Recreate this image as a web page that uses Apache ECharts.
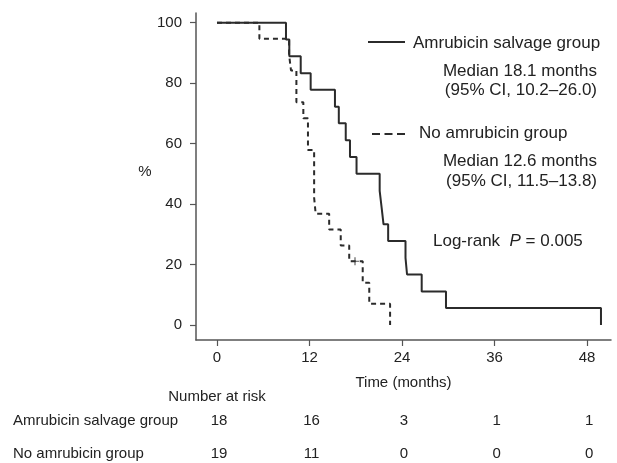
<!DOCTYPE html>
<html>
<head>
<meta charset="utf-8">
<script src="https://cdn.jsdelivr.net/npm/echarts@6/dist/echarts.min.js"></script>
<style>
html,body{margin:0;padding:0;background:#fff;}
#chart{width:617px;height:463px;}
</style>
</head>
<body>
<div id="chart"></div>
<script>
// Kaplan-Meier step data (time in months, survival %)
const solidName = 'Amrubicin salvage group';
const solidTimes = [0, 8.95, 9.38, 10.86, 12.15, 15.3, 15.8, 16.7, 17.25, 18.1, 21.1, 21.35, 21.6, 22.2, 24.45, 24.65, 26.55, 29.7, 49.8];
const solidSurv  = [100, 94.4, 88.9, 83.3, 77.8, 72.2, 66.7, 61.1, 55.6, 50.0, 44.4, 38.9, 33.3, 27.8, 22.2, 16.7, 11.1, 5.6, 0];

const dashedName = 'No amrubicin group';
const dashedTimes = [0, 5.5, 9.35, 9.6, 10.3, 11.2, 11.8, 12.6, 12.8, 14.55, 16.05, 17.15, 18.9, 19.75, 22.45];
const dashedSurv  = [100, 94.7, 89.5, 84.2, 73.7, 68.4, 57.9, 42.1, 36.8, 31.6, 26.3, 21.1, 14.0, 7.0, 0];

const censorTimes = [17.9];
const censorSurv  = [21.1];

const xTicks = [0, 12, 24, 36, 48];
const yTicks = [0, 20, 40, 60, 80, 100];

const riskTimes = [0, 12, 24, 36, 48];
const riskSolid = [18, 16, 3, 1, 1];
const riskDashed = [19, 11, 0, 0, 0];

const solidMedian = ['Median 18.1 months', '(95% CI, 10.2–26.0)'];
const dashedMedian = ['Median 12.6 months', '(95% CI, 11.5–13.8)'];

const FONT = '"Liberation Sans", Arial, Helvetica, sans-serif';
const TXT = '#222';
const LINE = '#2b2b2b';
const AXIS = '#555';

const chart = echarts.init(document.getElementById('chart'), null, {renderer: 'canvas'});

const zip = (a, b) => a.map((v, i) => [v, b[i]]);

chart.setOption({
  animation: false,
  backgroundColor: '#fff',
  textStyle: {fontFamily: FONT, color: TXT},
  grid: {left: 196, top: 13, width: 415, height: 327, containLabel: false},
  xAxis: {
    type: 'value', min: -2.72, max: 51.1,
    name: 'Time (months)', nameLocation: 'middle', nameGap: 35,
    nameTextStyle: {fontSize: 15, color: TXT, fontFamily: FONT},
    axisLine: {show: true, onZero: false, lineStyle: {color: AXIS, width: 1.5}},
    axisTick: {show: true, length: 6, lineStyle: {color: AXIS, width: 1.2}, customValues: xTicks},
    axisLabel: {fontSize: 15, color: TXT, margin: 10, customValues: xTicks, fontFamily: FONT},
    splitLine: {show: false}
  },
  yAxis: {
    type: 'value', min: -4.96, max: 103.2,
    axisLine: {show: true, onZero: false, lineStyle: {color: AXIS, width: 1.5}},
    axisTick: {show: true, length: 6, lineStyle: {color: AXIS, width: 1.2}, customValues: yTicks},
    axisLabel: {fontSize: 15, color: TXT, margin: 14, customValues: yTicks, fontFamily: FONT},
    splitLine: {show: false}
  },
  series: [
    {
      name: solidName, type: 'line', step: 'end', symbol: 'none',
      data: zip(solidTimes, solidSurv),
      lineStyle: {color: LINE, width: 2}
    },
    {
      name: dashedName, type: 'line', step: 'end', symbol: 'none',
      data: zip(dashedTimes, dashedSurv),
      lineStyle: {color: LINE, width: 2, type: [5, 4]}
    },
    {
      name: 'censored', type: 'scatter',
      data: zip(censorTimes, censorSurv),
      symbol: 'path://M4.3,0H5.7V10H4.3Z M0,4.3H10V5.7H0Z',
      symbolSize: 8,
      itemStyle: {color: LINE}
    }
  ]
});

// Annotations and risk table
const g = [];
const text = (x, y, s, opt = {}) => g.push({
  type: 'text', x, y,
  style: Object.assign({text: s, fill: TXT, font: `${opt.size || 15}px ${FONT}`,
    textAlign: opt.align || 'left', textVerticalAlign: 'middle'}, opt.style || {})
});

// legend: solid
g.push({type: 'line', shape: {x1: 368, y1: 42, x2: 405, y2: 42}, style: {stroke: LINE, lineWidth: 2}});
text(413, 43, solidName, {size: 17});
text(597, 71, solidMedian[0], {size: 17, align: 'right'});
text(597, 90, solidMedian[1], {size: 17, align: 'right'});
// legend: dashed
g.push({type: 'line', shape: {x1: 372, y1: 134, x2: 406, y2: 134}, style: {stroke: LINE, lineWidth: 2, lineDash: [8, 4.5]}});
text(419, 133.5, dashedName, {size: 17});
text(597, 161, dashedMedian[0], {size: 17, align: 'right'});
text(597, 181, dashedMedian[1], {size: 17, align: 'right'});
// log-rank
g.push({
  type: 'text', x: 433, y: 241,
  style: {
    text: '{a|Log-rank  }{i|P}{a| = 0.005}',
    textVerticalAlign: 'middle',
    rich: {
      a: {fontSize: 17, fontFamily: FONT, fill: TXT, color: TXT},
      i: {fontSize: 17, fontFamily: FONT, fontStyle: 'italic', fill: TXT, color: TXT}
    }
  }
});
// y axis name
text(145, 172, '%', {size: 15, align: 'center'});

// risk table
const x0 = chart.convertToPixel({xAxisIndex: 0}, 0);
text(x0, 397, 'Number at risk', {size: 15, align: 'center'});
text(13, 421, solidName, {size: 15});
text(13, 454, dashedName, {size: 15});
riskTimes.forEach((t, i) => {
  const px = chart.convertToPixel({xAxisIndex: 0}, t) + 2;
  text(px, 421, String(riskSolid[i]), {size: 15, align: 'center'});
  text(px, 454, String(riskDashed[i]), {size: 15, align: 'center'});
});

chart.setOption({graphic: g});
</script>
</body>
</html>
